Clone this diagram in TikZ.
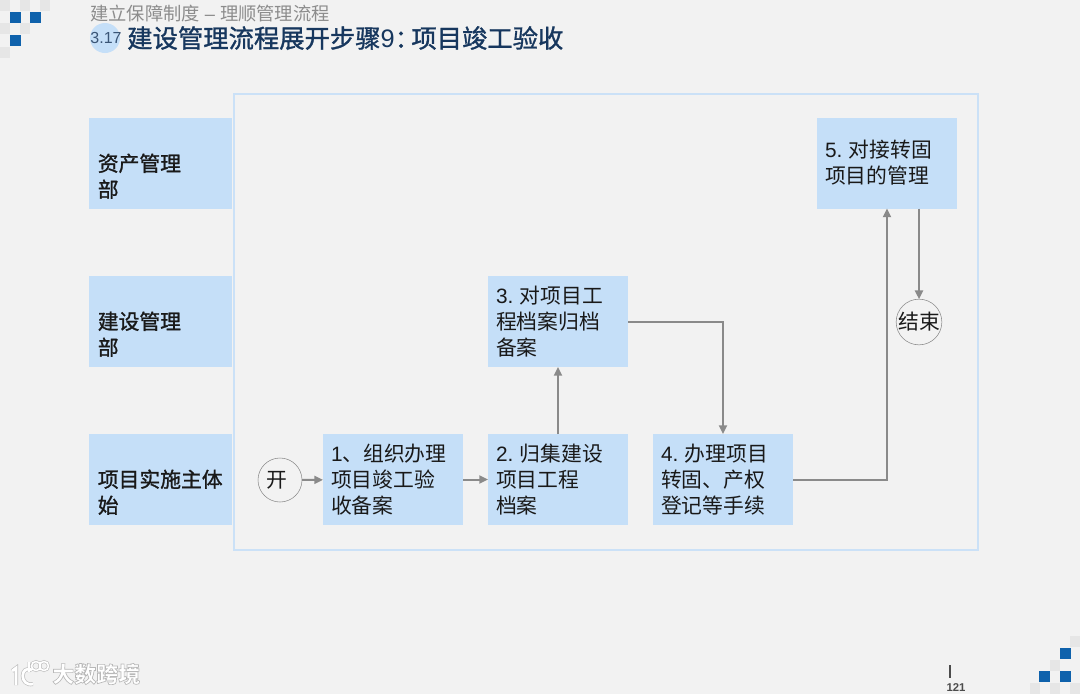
\documentclass[tikz,border=0pt]{standalone}
\usepackage{fontspec}
\usetikzlibrary{arrows.meta,positioning}
\setmainfont{Noto Sans CJK SC}
\newfontfamily\latinfont{Liberation Sans}
\newfontfamily\headfont[FakeBold=1.2]{Noto Sans CJK SC}
\newcommand\stepnum[1]{{\latinfont #1 }\hspace{-3pt}}
\definecolor{pagegray}{HTML}{F2F2F2}
\definecolor{boxblue}{HTML}{C5DFF8}
\definecolor{frameblue}{HTML}{CBE1F7}
\definecolor{flowgray}{HTML}{8A8A8A}
\definecolor{titleblue}{HTML}{17375E}
\definecolor{squareblue}{HTML}{0F62AC}
\definecolor{squaregray}{HTML}{E6E6E6}
\tikzset{lane/.style={fill=boxblue,minimum width=107.25pt,minimum height=68.25pt,text width=94pt,inner xsep=6.5pt,inner ysep=0pt,outer sep=0pt,align=left,font=\headfont\fontsize{15.6}{19.5}\selectfont,text=black!90},task/.style={lane,minimum width=105pt,text width=93pt,inner xsep=6pt,font=\fontsize{15.6}{19.5}\selectfont},terminal/.style={circle,draw=flowgray,fill=pagegray,minimum size=33pt,inner sep=0pt,outer sep=0pt,font=\fontsize{15.6}{18}\selectfont,text=black!90},flow/.style={-{Triangle[length=6.5pt,width=6pt]},line width=1.5pt,draw=flowgray}}
\begin{document}
\begin{tikzpicture}[x=.75pt,y=-.75pt,node distance=18.75pt]
\useasboundingbox (0,0) rectangle (1080,694);
\fill[pagegray] (0,0) rectangle (1080,694);
% corner squares
\foreach \x/\y in {0/0,20/0,40/0,20/23,0/23,0/47,1070/636,1050/660,1030/683,1050/683,1070/683}{\fill[squaregray] (\x,\y) rectangle ++(10,11);}
\foreach \x/\y in {10/12,30/12,10/35,1060/648,1039/671,1060/671}{\fill[squareblue] (\x,\y) rectangle ++(10.5,11);}
% heading
\node[circle,fill=boxblue,minimum size=22.5pt,inner sep=0pt] (badge) at (105,38) {};
\node[anchor=center,font=\latinfont\fontsize{12}{12}\selectfont,text=titleblue!85,inner sep=0pt] (num) at (106,38) {3.17};
\node[anchor=west,inner sep=0pt,font=\headfont\fontsize{19}{22}\selectfont,text=titleblue] (title) at (127,38) {建设管理流程展开步骤{\latinfont 9}：\hspace{-6.5pt}项目竣工验收};
\node[anchor=west,inner sep=0pt,font=\fontsize{13.7}{15}\selectfont,text=black!45] (subtitle) at (90,14) {建立保障制度{\latinfont\ –\ }理顺管理流程};
% panel
\node[draw=frameblue,line width=2pt,minimum width=558pt,minimum height=342pt,inner sep=0pt] (panel) at (606,322) {};
% lanes
\node[lane] (lanea) at (160.5,163) {\mbox{}\\[13.5pt]资产管理\\部};
\node[lane,below=50.25pt of lanea] (laneb) {\mbox{}\\[13.5pt]建设管理\\部};
\node[lane,below=50.25pt of laneb] (lanec) {\mbox{}\\[13.5pt]项目实施主体\\始};
% tasks
\node[task] (taska) at (393,479.5) {{\latinfont 1}、组织办理\\项目竣工验\\收备案};
\node[task,right=of taska] (taskb) {\stepnum{2.}归集建设\\项目工程\\档案};
\node[task,above=50.25pt of taskb] (taskc) {\stepnum{3.}对项目工\\程档案归档\\备案};
\node[task,right=of taskb] (taskd) {\stepnum{4.}办理项目\\转固、产权\\登记等手续};
\node[task] (taske) at (887,163) {\stepnum{5.}对接转固\\项目的管理};
\node[terminal] (start) at (280,480) {开\kern4pt\mbox{}};
\node[terminal] (stop) at (919,322) {结束};
% flows
\draw[flow] (start)--(taska);
\draw[flow] (taska)--(taskb);
\draw[flow] (taskb)--(taskc);
\draw[flow] (taskc.east)-|(taskd.north);
\draw[flow] (taskd.east)-|(taske.south);
\draw[flow] (stop.north|-taske.south)--(stop.north);
% footer
\draw[black!70,line width=.8pt] (950,665)--(950,678);
\node[inner sep=0pt,font=\latinfont\fontsize{8.5}{9}\selectfont\bfseries,text=black!70] (page) at (956,688) {121};
\node[anchor=west,inner sep=0pt,font=\fontsize{16.5}{18}\selectfont\bfseries] (mark) at (52,674) {\special{pdf:code 1 1 1 rg 0.72 0.72 0.72 RG 2 Tr 0.5 w}大数跨境\special{pdf:code 0 Tr}};
\foreach \c/\w in {black!25/1,white/0}{
\draw[\c,line width=2pt+\w*1pt] (12,671)--(16,668)--(16,685);
\draw[\c,line width=2pt+\w*1pt] (32,670) .. controls (20,664) and (19,687) .. (33,684);
\draw[\c,line width=1.2pt+\w*1pt] (29,662)--(29,672) (36,666) circle[radius=4.5] (44,666) circle[radius=4.5];
}
\end{tikzpicture}
\end{document}
